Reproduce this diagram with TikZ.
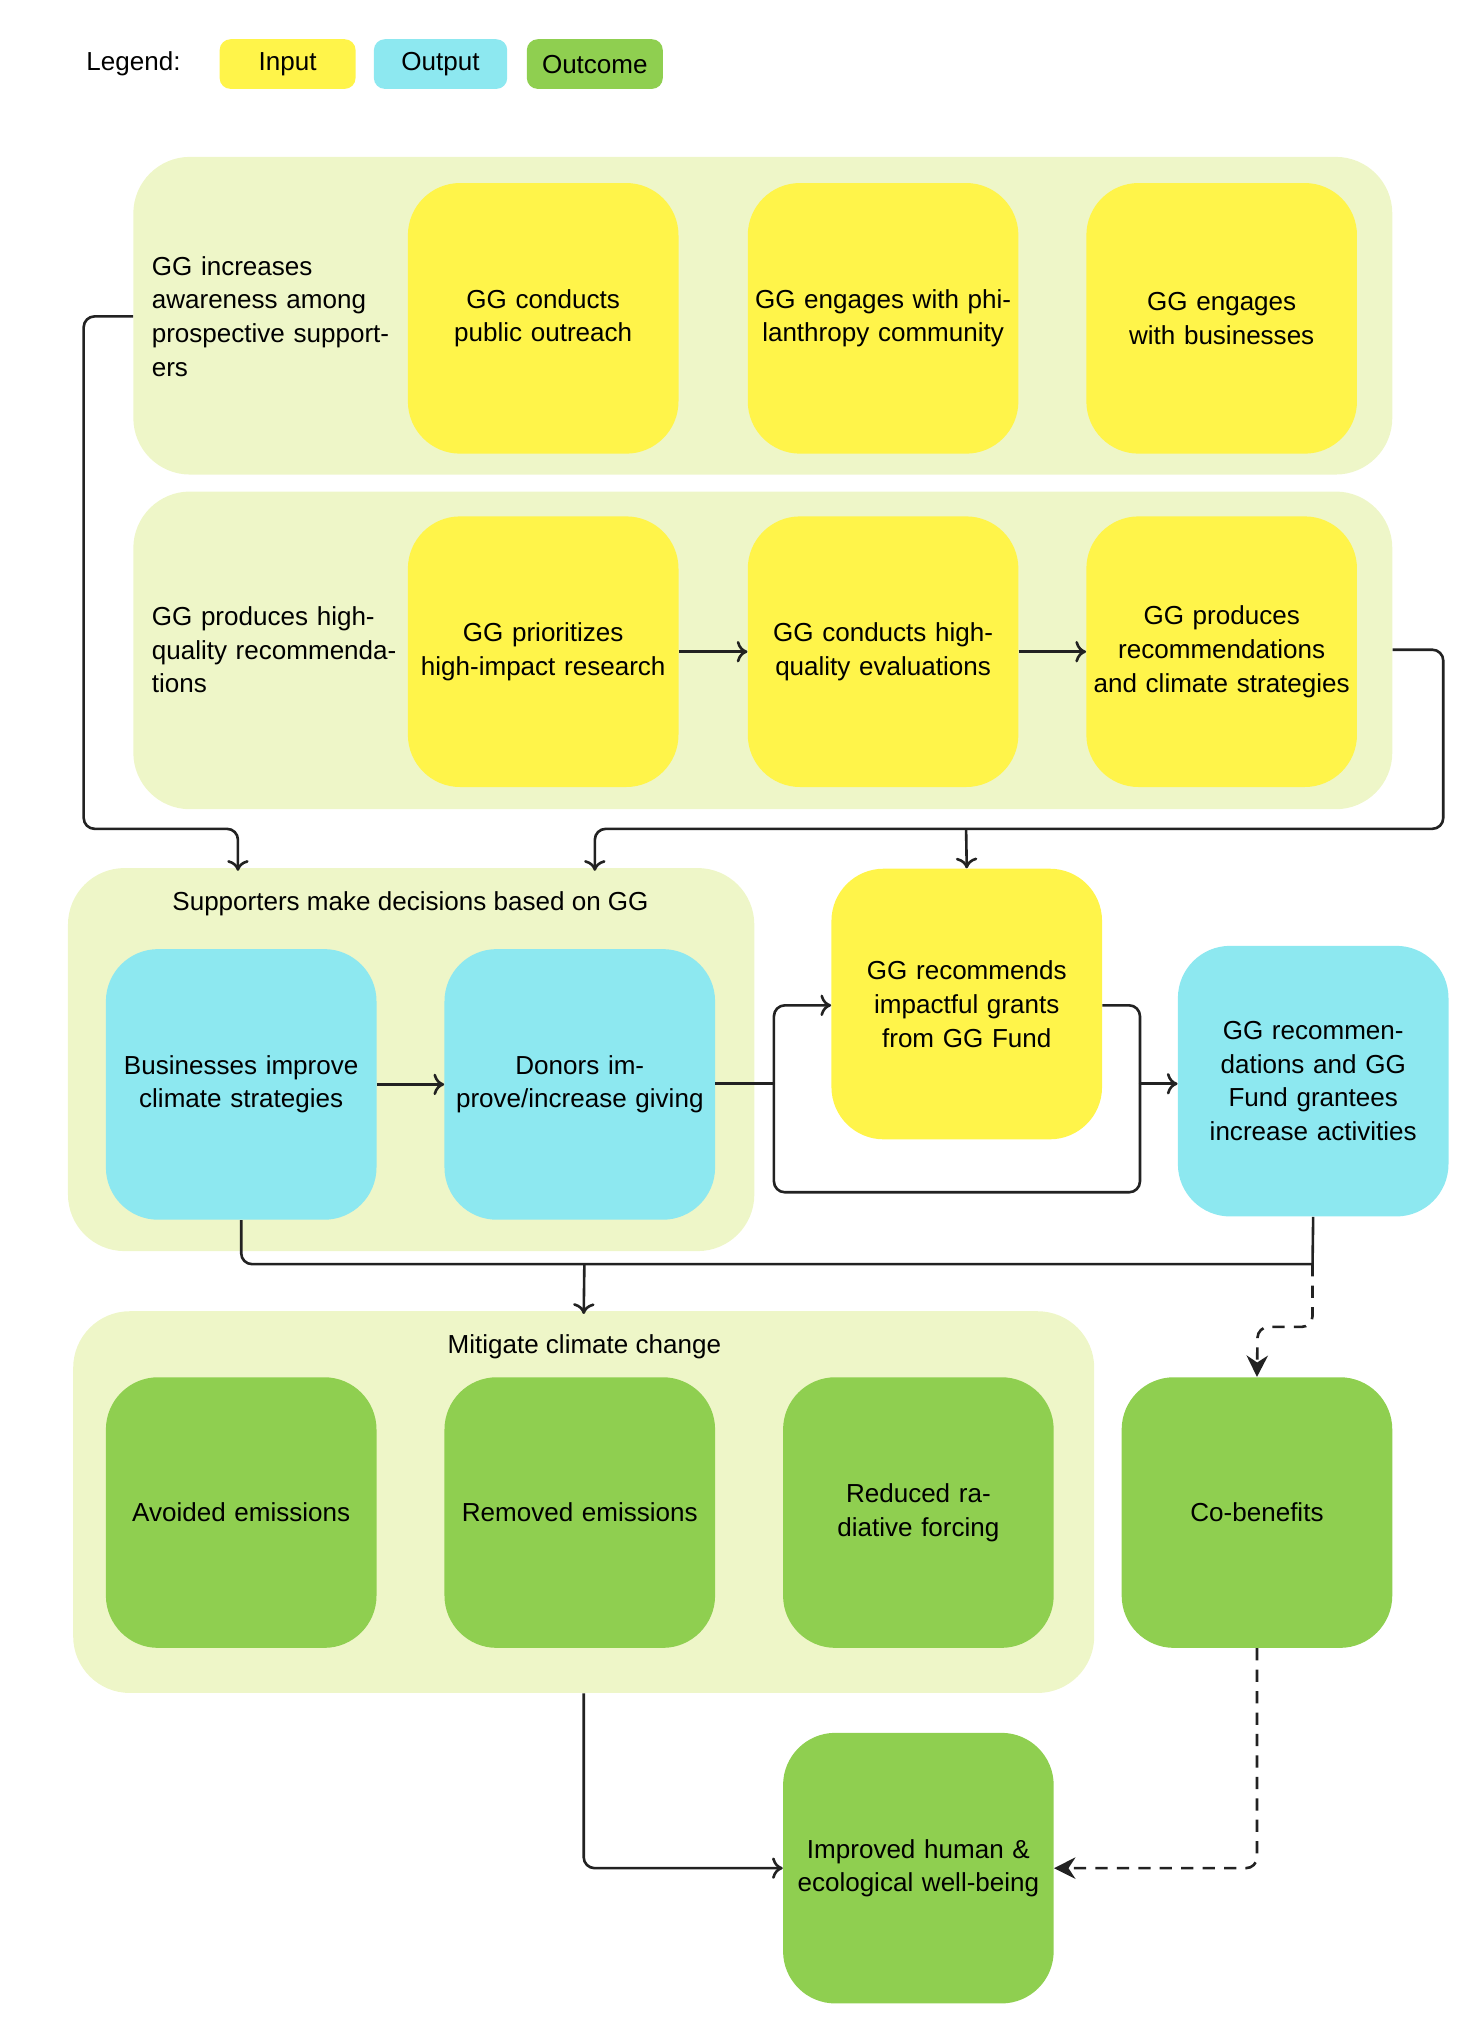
\documentclass[tikz,border=0pt]{standalone}
\usepackage{fontspec}
\setmainfont{Liberation Sans}
\usetikzlibrary{arrows.meta}
\definecolor{inyel}{HTML}{FFF44A}
\definecolor{outcy}{HTML}{8DE8F0}
\definecolor{outgr}{HTML}{8FCF50}
\definecolor{contg}{HTML}{EEF6C8}
\definecolor{lnc}{HTML}{222222}
\tikzset{
  box/.style={rectangle, rounded corners=1.2cm, minimum width=6.21cm, minimum height=6.21cm,
    text width=5.9cm, align=center, font=\fontsize{17}{22}\selectfont},
  inp/.style={box, fill=inyel},
  outp/.style={box, fill=outcy},
  outc/.style={box, fill=outgr},
  cont/.style={rectangle, rounded corners=1.3cm, fill=contg, inner sep=0pt},
  lbl/.style={font=\fontsize{17}{22}\selectfont, align=left},
  leg/.style={rectangle, rounded corners=0.25cm, minimum height=1.14cm, font=\fontsize{17}{22}\selectfont},
  conn/.style={draw=lnc, line width=1.7pt, rounded corners=0.25cm, -{To[length=7pt,width=14pt]}},
  plain/.style={draw=lnc, line width=1.7pt, rounded corners=0.25cm},
  dconn/.style={draw=lnc, line width=1.7pt, dashed, dash pattern=on 8pt off 6pt, rounded corners=0.25cm, -{Stealth[length=14pt,width=14pt]}}
}
\begin{document}
\begin{tikzpicture}[x=0.03cm, y=-0.03cm]
\useasboundingbox (0,0) rectangle (1132,1562);
% legend
\node[lbl, anchor=west] (legt) at (62,49) {Legend:};
\node[leg, fill=inyel, minimum width=3.12cm] (legi) at (220,49) {Input};
\node[leg, fill=outcy, minimum width=3.06cm] (lego) at (337,49) {Output};
\node[leg, fill=outgr, minimum width=3.12cm] (legc) at (455,49) {Outcome};
% containers
\node[cont, minimum width=28.89cm, minimum height=7.29cm] (c1) at (583.5,241.5) {};
\node[cont, minimum width=28.89cm, minimum height=7.29cm] (c2) at (583.5,497.5) {};
\node[cont, minimum width=15.75cm, minimum height=8.79cm] (c3) at (314.5,810.5) {};
\node[cont, minimum width=23.43cm, minimum height=8.76cm] (c4) at (446.5,1149) {};
% row 1
\node[lbl, anchor=west, text width=5.7cm] (t1) at (112,242) {GG increases awareness among prospective supporters};
\node[inp] (a1) at (415.5,243.5) {GG conducts public outreach};
\node[inp] (a2) at (675.5,243.5) {GG engages with philanthropy community};
\node[inp] (a3) at (934.5,243.5) {GG engages with businesses};
% row 2
\node[lbl, anchor=west, text width=6cm] (t2) at (112,497) {GG produces high-quality recommendations};
\node[inp] (b1) at (415.5,498.5) {GG prioritizes high-impact research};
\node[inp] (b2) at (675.5,498.5) {GG conducts high-quality evaluations};
\node[inp] (b3) at (934.5,498.5) {GG produces recommendations and climate strategies};
\draw[conn] (b1) -- (b2);
\draw[conn] (b2) -- (b3);
% row 3
\node[lbl] (t3) at (314,691) {Supporters make decisions based on GG};
\node[outp] (d1) at (184.5,829.5) {Businesses improve climate strategies};
\node[outp] (d2) at (443.5,829.5) {Donors improve/increase giving};
\node[inp] (e1) at (739.5,768) {GG recommends impactful grants from GG Fund\\[2.2cm]};
\node[outp] (e2) at (1004.5,827) {GG recommendations and GG Fund grantees increase activities};
\draw[conn] (d1) -- (d2);
% row 4
\node[lbl] (t4) at (447,1030) {Mitigate climate change};
\node[outc] (f1) at (184.5,1157) {Avoided emissions};
\node[outc] (f2) at (443.5,1157) {Removed emissions};
\node[outc] (f3) at (702.5,1157) {Reduced radiative forcing};
\node[outc] (f4) at (961.5,1157) {Co-benefits};
\node[outc] (g1) at (702.5,1429) {Improved human \& ecological well-being};
% connectors
\coordinate (j1) at (182,634);
\coordinate (j2) at (739,634);
\coordinate (j3) at (592,829);
\coordinate (j4) at (872,829);
\coordinate (j5) at (447,967);
\coordinate (j6) at (1004,967);
\draw[conn] (c1.west |- 0,242) -| (64,634) -| ([yshift=-2pt]c3.north -| j1);
\draw[conn] (c2.east |- 0,497) -| (1104,634) -| ([yshift=-2pt]c3.north -| 455,0);
\draw[conn] (j2) -- (e1.north);
\draw[plain] (d2.east |- j3) -- (j3);
\draw[conn] (j3) |- (e1.west |- 0,769);
\draw[plain] (j3) |- (872,912) -- (j4);
\draw[plain] (e1.east |- 0,769) -| (j4);
\draw[conn] (j4) -- (e2.west |- j4);
\draw[plain] (d1.south) |- (j6);
\draw[plain] (e2.south) -- (j6);
\draw[conn] (j5) -- ([yshift=-2pt]c4.north);
\draw[dconn] (j6) |- (962,1015) -- (f4.north);
\draw[conn] (c4.south) |- (g1.west);
\draw[dconn] (f4.south) |- (g1.east);
\end{tikzpicture}
\end{document}
